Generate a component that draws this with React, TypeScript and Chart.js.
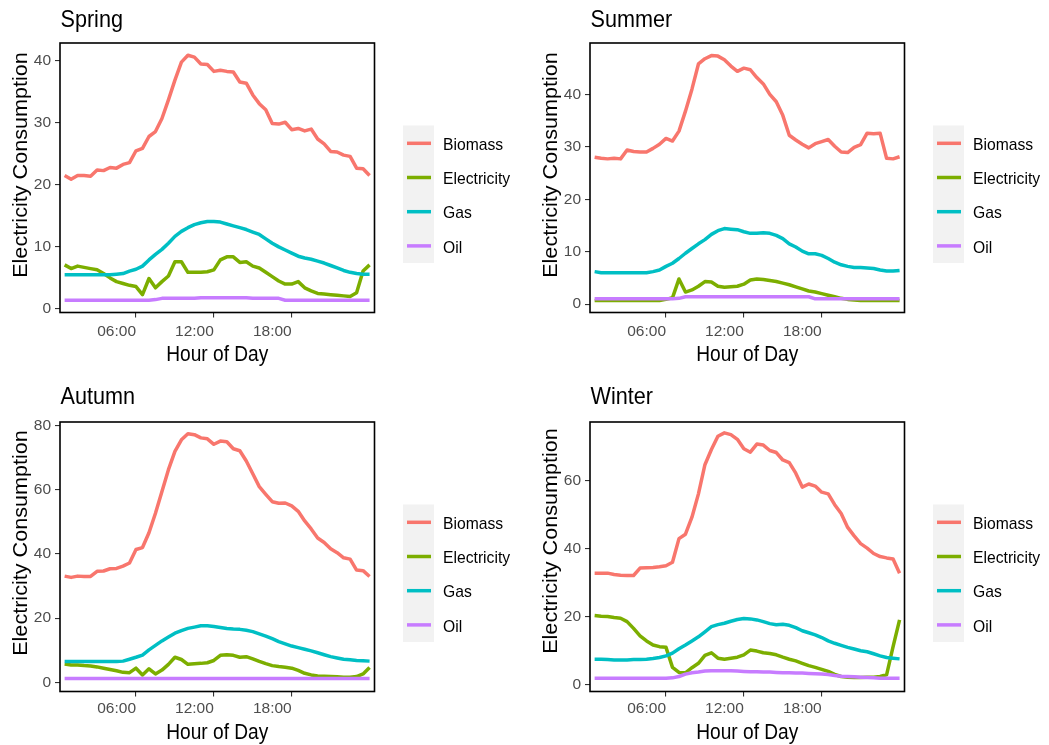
import React, { useEffect, useRef } from "react";
import { Chart, registerables } from "chart.js";

Chart.register(...registerables);

// ---------- DATA ----------
const hours = [
  0.5, 1, 1.5, 2, 2.5, 3, 3.5, 4, 4.5, 5, 5.5, 6, 6.5, 7, 7.5, 8, 8.5, 9, 9.5, 10, 10.5, 11, 11.5, 12,
  12.5, 13, 13.5, 14, 14.5, 15, 15.5, 16, 16.5, 17, 17.5, 18, 18.5, 19, 19.5, 20, 20.5, 21, 21.5, 22,
  22.5, 23, 23.5, 24,
];

const seriesNames = ["Biomass", "Electricity", "Gas", "Oil"];
const seriesColors = ["#F8766D", "#7CAE00", "#00BFC4", "#C77CFF"];

const xTickValues = [6, 12, 18];
const xTickLabels = ["06:00", "12:00", "18:00"];

const springYTicks = [0, 10, 20, 30, 40];
const summerYTicks = [0, 10, 20, 30, 40];
const autumnYTicks = [0, 20, 40, 60, 80];
const winterYTicks = [0, 20, 40, 60];

const springBiomass = [21.4, 20.8, 21.4, 21.4, 21.3, 22.3, 22.2, 22.7, 22.6, 23.2, 23.5, 25.4, 25.8, 27.7, 28.5, 30.6, 33.6, 36.8, 39.7, 40.8, 40.5, 39.4, 39.3, 38.2, 38.4, 38.2, 38.1, 36.5, 36.3, 34.4, 33.0, 32.0, 29.8, 29.7, 30.0, 28.8, 29.0, 28.6, 28.9, 27.3, 26.5, 25.3, 25.2, 24.7, 24.5, 22.6, 22.5, 21.4];
const springElectricity = [7.0, 6.4, 6.8, 6.6, 6.4, 6.2, 5.6, 4.9, 4.3, 4.0, 3.7, 3.5, 2.2, 4.8, 3.3, 4.3, 5.2, 7.5, 7.5, 5.8, 5.8, 5.8, 5.9, 6.2, 7.8, 8.3, 8.3, 7.4, 7.5, 6.8, 6.5, 5.8, 5.1, 4.4, 3.9, 3.9, 4.3, 3.3, 2.8, 2.4, 2.3, 2.2, 2.1, 2.0, 1.9, 2.5, 6.0, 7.0];
const springGas = [5.4, 5.4, 5.4, 5.4, 5.4, 5.4, 5.4, 5.4, 5.5, 5.6, 6.0, 6.3, 6.8, 7.8, 8.7, 9.5, 10.5, 11.6, 12.4, 13.0, 13.5, 13.8, 14.0, 14.0, 13.9, 13.6, 13.3, 13.0, 12.7, 12.3, 11.9, 11.2, 10.5, 9.9, 9.4, 8.9, 8.4, 8.1, 7.9, 7.6, 7.3, 6.9, 6.5, 6.1, 5.8, 5.6, 5.5, 5.5];
const springOil = [1.3, 1.3, 1.3, 1.3, 1.3, 1.3, 1.3, 1.3, 1.3, 1.3, 1.3, 1.3, 1.3, 1.3, 1.4, 1.6, 1.6, 1.6, 1.6, 1.6, 1.6, 1.7, 1.7, 1.7, 1.7, 1.7, 1.7, 1.7, 1.7, 1.6, 1.6, 1.6, 1.6, 1.6, 1.3, 1.3, 1.3, 1.3, 1.3, 1.3, 1.3, 1.3, 1.3, 1.3, 1.3, 1.3, 1.3, 1.3];

const summerBiomass = [28.0, 27.8, 27.7, 27.8, 27.7, 29.4, 29.1, 29.0, 29.0, 29.7, 30.5, 31.6, 31.1, 33.0, 36.8, 41.0, 45.8, 46.8, 47.4, 47.3, 46.6, 45.4, 44.4, 45.0, 44.7, 43.2, 42.0, 40.0, 38.6, 36.0, 32.2, 31.3, 30.5, 29.8, 30.6, 31.0, 31.4, 30.1, 29.0, 28.9, 29.9, 30.4, 32.6, 32.5, 32.6, 27.8, 27.7, 28.1];
const summerElectricity = [0.7, 0.7, 0.7, 0.7, 0.7, 0.7, 0.7, 0.7, 0.7, 0.7, 0.7, 0.9, 1.2, 4.8, 2.3, 2.7, 3.4, 4.3, 4.2, 3.4, 3.2, 3.3, 3.4, 3.8, 4.6, 4.8, 4.7, 4.5, 4.3, 4.0, 3.7, 3.3, 2.9, 2.5, 2.3, 2.0, 1.7, 1.4, 1.1, 0.9, 0.8, 0.7, 0.7, 0.7, 0.7, 0.7, 0.7, 0.7];
const summerGas = [6.2, 6.0, 6.0, 6.0, 6.0, 6.0, 6.0, 6.0, 6.0, 6.2, 6.5, 7.2, 7.8, 8.7, 9.7, 10.6, 11.5, 12.3, 13.3, 14.0, 14.4, 14.3, 14.2, 13.8, 13.5, 13.5, 13.6, 13.5, 13.1, 12.5, 11.5, 10.9, 10.1, 9.6, 9.6, 9.3, 8.7, 8.0, 7.5, 7.2, 7.0, 7.0, 6.9, 6.8, 6.5, 6.3, 6.3, 6.4];
const summerOil = [1.0, 1.0, 1.0, 1.0, 1.0, 1.0, 1.0, 1.0, 1.0, 1.0, 1.0, 1.0, 1.0, 1.1, 1.4, 1.4, 1.4, 1.4, 1.4, 1.4, 1.4, 1.4, 1.4, 1.4, 1.4, 1.4, 1.4, 1.4, 1.4, 1.4, 1.4, 1.4, 1.4, 1.4, 1.0, 1.0, 1.0, 1.0, 1.0, 1.0, 1.0, 1.0, 1.0, 1.0, 1.0, 1.0, 1.0, 1.0];

const autumnBiomass = [33.1, 32.7, 33.1, 33.0, 33.0, 34.6, 34.7, 35.4, 35.5, 36.2, 37.2, 41.4, 42.0, 46.6, 52.7, 59.5, 66.3, 72.0, 75.6, 77.5, 77.2, 76.2, 75.9, 74.2, 75.2, 75.0, 72.8, 72.2, 69.0, 65.0, 61.0, 58.6, 56.3, 55.8, 55.9, 55.0, 53.3, 50.3, 47.8, 45.0, 43.6, 41.6, 40.4, 38.8, 38.4, 35.0, 34.8, 33.0];
const autumnElectricity = [5.7, 5.4, 5.4, 5.2, 5.1, 4.8, 4.4, 4.0, 3.6, 3.1, 3.0, 4.4, 2.3, 4.2, 2.6, 3.8, 5.6, 7.8, 7.1, 5.6, 5.8, 5.9, 6.1, 6.8, 8.4, 8.6, 8.4, 7.8, 8.0, 7.3, 6.5, 5.8, 5.2, 4.9, 4.7, 4.4, 3.7, 2.8, 2.3, 2.0, 1.9, 1.8, 1.7, 1.6, 1.6, 1.8, 2.6, 4.6];
const autumnGas = [6.5, 6.5, 6.5, 6.5, 6.5, 6.5, 6.5, 6.5, 6.5, 6.6, 7.2, 7.8, 8.5, 10.1, 11.5, 12.9, 14.1, 15.3, 16.1, 16.8, 17.2, 17.6, 17.6, 17.4, 17.1, 16.8, 16.6, 16.5, 16.2, 15.8, 15.1, 14.4, 13.6, 12.7, 12.0, 11.3, 10.8, 10.3, 9.8, 9.2, 8.6, 8.0, 7.6, 7.2, 7.0, 6.8, 6.7, 6.6];
const autumnOil = [1.2, 1.2, 1.2, 1.2, 1.2, 1.2, 1.2, 1.2, 1.2, 1.2, 1.2, 1.2, 1.2, 1.2, 1.2, 1.2, 1.2, 1.2, 1.2, 1.2, 1.2, 1.2, 1.2, 1.2, 1.2, 1.2, 1.2, 1.2, 1.2, 1.2, 1.2, 1.2, 1.2, 1.2, 1.2, 1.2, 1.2, 1.2, 1.2, 1.2, 1.2, 1.2, 1.2, 1.2, 1.2, 1.2, 1.2, 1.2];

const winterBiomass = [32.8, 32.8, 32.8, 32.4, 32.2, 32.1, 32.1, 34.3, 34.4, 34.5, 34.7, 35.0, 36.0, 43.0, 44.3, 49.3, 56.2, 64.8, 69.3, 73.2, 74.2, 73.7, 72.3, 69.5, 68.5, 70.9, 70.6, 69.0, 68.4, 66.2, 65.4, 62.3, 58.2, 59.1, 58.5, 56.7, 56.2, 53.0, 50.4, 46.3, 43.8, 41.5, 40.2, 38.6, 37.7, 37.3, 37.0, 32.8];
const winterElectricity = [20.3, 20.1, 20.0, 19.7, 19.5, 18.5, 16.5, 14.3, 12.8, 11.6, 11.1, 10.9, 5.0, 3.5, 3.4, 4.9, 6.2, 8.5, 9.3, 7.7, 7.4, 7.7, 8.0, 8.7, 10.1, 9.8, 9.3, 9.1, 8.7, 8.0, 7.4, 6.9, 6.2, 5.5, 5.0, 4.4, 3.8, 2.9, 2.3, 2.1, 2.0, 2.0, 2.1, 2.1, 2.3, 2.8, 11.1, 19.0];
const winterGas = [7.4, 7.4, 7.3, 7.2, 7.2, 7.2, 7.3, 7.3, 7.4, 7.6, 7.9, 8.4, 9.2, 10.5, 11.6, 12.8, 14.0, 15.5, 17.0, 17.6, 18.0, 18.6, 19.1, 19.4, 19.3, 19.0, 18.5, 17.9, 17.6, 17.7, 17.4, 16.7, 15.8, 15.2, 14.6, 13.8, 12.8, 12.1, 11.5, 10.9, 10.4, 9.9, 9.6, 9.0, 8.4, 7.9, 7.7, 7.5];
const winterOil = [1.8, 1.8, 1.8, 1.8, 1.8, 1.8, 1.8, 1.8, 1.8, 1.8, 1.8, 1.8, 1.9, 2.3, 3.0, 3.4, 3.6, 3.9, 4.0, 4.0, 4.0, 4.0, 3.9, 3.8, 3.7, 3.7, 3.6, 3.6, 3.5, 3.4, 3.4, 3.3, 3.3, 3.2, 3.1, 3.0, 2.9, 2.6, 2.4, 2.3, 2.2, 2.1, 2.0, 1.9, 1.8, 1.8, 1.8, 1.8];

const xTitle = "Hour of Day";
const yTitle = "Electricity Consumption";

// ---------- LAYOUT ----------
const FONT = '"Liberation Sans", Arial, Helvetica, sans-serif';
const CANVAS_W = 519;
const CANVAS_H = 366;

type PanelSpec = {
  title: string;
  series: number[][];
  yMin: number;
  yMax: number;
  yTicks: number[];
  left: number;
  top: number;
  titleY: number;
  xTitleY: number;
  yTitleCenter: number;
  xTickPad: number;
};

const panels: PanelSpec[] = [
  { title: "Spring", series: [springBiomass, springElectricity, springGas, springOil], yMin: -0.68, yMax: 42.78, yTicks: springYTicks, left: 0, top: 0, titleY: 26.7, xTitleY: 361, yTitleCenter: 165, xTickPad: 5 },
  { title: "Summer", series: [summerBiomass, summerElectricity, summerGas, summerOil], yMin: -1.6, yMax: 49.8, yTicks: summerYTicks, left: 530, top: 0, titleY: 26.7, xTitleY: 361, yTitleCenter: 165, xTickPad: 5 },
  { title: "Autumn", series: [autumnBiomass, autumnElectricity, autumnGas, autumnOil], yMin: -2.87, yMax: 81.15, yTicks: autumnYTicks, left: 0, top: 379, titleY: 25.3, xTitleY: 359.5, yTitleCenter: 164, xTickPad: 3 },
  { title: "Winter", series: [winterBiomass, winterElectricity, winterGas, winterOil], yMin: -2.13, yMax: 77.41, yTicks: winterYTicks, left: 530, top: 379, titleY: 25.3, xTitleY: 359.5, yTitleCenter: 162, xTickPad: 3 },
];

function drawText(
  ctx: CanvasRenderingContext2D,
  s: string,
  x: number,
  y: number,
  size: number,
  sx: number,
  align: CanvasTextAlign,
  rotate = 0,
  color = "#000000"
) {
  ctx.save();
  ctx.translate(x, y);
  if (rotate) ctx.rotate(rotate);
  ctx.scale(sx, 1);
  ctx.font = `${size}px ${FONT}`;
  ctx.fillStyle = color;
  ctx.textAlign = align;
  ctx.textBaseline = "alphabetic";
  ctx.fillText(s, 0, 0);
  ctx.restore();
}

function makeDecor(p: PanelSpec) {
  return {
    id: "decor",
    afterDatasetsDraw(chart: any) {
      const { ctx, chartArea: a } = chart;
      ctx.save();
      ctx.strokeStyle = "#000000";
      ctx.lineWidth = 1.6;
      ctx.strokeRect(a.left, a.top, a.right - a.left, a.bottom - a.top);
      ctx.restore();
    },
    afterDraw(chart: any) {
      const { ctx, chartArea: a } = chart;
      drawText(ctx, p.title, a.left + 0.5, p.titleY, 24, 0.9, "left");
      drawText(ctx, xTitle, (a.left + a.right) / 2, p.xTitleY, 22, 0.87, "center");
      drawText(ctx, yTitle, 26.5, p.yTitleCenter, 20, 1.08, "center", -Math.PI / 2);
      // legend
      const ds = chart.data.datasets;
      ctx.save();
      ctx.fillStyle = "#F2F2F2";
      ctx.fillRect(403, 125.5, 31, 137.5);
      ds.forEach((d: any, i: number) => {
        const y = 143.3 + i * 34.2;
        ctx.strokeStyle = d.borderColor;
        ctx.lineWidth = 3.5;
        ctx.lineCap = "butt";
        ctx.beginPath();
        ctx.moveTo(407, y);
        ctx.lineTo(431, y);
        ctx.stroke();
        drawText(ctx, d.label, 443, y + 6.6, 15.7, 1, "left");
      });
      ctx.restore();
    },
  };
}

function Panel({ spec }: { spec: PanelSpec }) {
  const ref = useRef<HTMLCanvasElement>(null);
  useEffect(() => {
    if (!ref.current) return;
    const tickFont = { family: FONT, size: 15.5 };
    const chart = new Chart(ref.current, {
      type: "line",
      data: {
        datasets: seriesNames.map((name, i) => ({
          label: name,
          data: hours.map((h, j) => ({ x: h, y: spec.series[i][j] })),
          borderColor: seriesColors[i],
          backgroundColor: seriesColors[i],
          borderWidth: 3.5,
          pointRadius: 0,
          pointHoverRadius: 0,
          tension: 0,
          fill: false,
          order: 3 - i,
          borderJoinStyle: "round" as const,
          borderCapStyle: "butt" as const,
        })),
      },
      options: {
        responsive: false,
        maintainAspectRatio: false,
        animation: false,
        events: [],
        layout: { padding: { left: 0, top: 43, right: CANVAS_W - 374.5, bottom: 0 } },
        plugins: {
          legend: { display: false },
          tooltip: { enabled: false },
          title: { display: false },
        },
        scales: {
          x: {
            type: "linear",
            min: 0.143,
            max: 24.38,
            bounds: "data",
            afterFit: (s: any) => {
              s.height = CANVAS_H - 312.5;
            },
            afterBuildTicks: (s: any) => {
              s.ticks = xTickValues.map((v) => ({ value: v }));
            },
            ticks: {
              autoSkip: false,
              maxRotation: 0,
              minRotation: 0,
              align: "end",
              padding: spec.xTickPad,
              color: "#4D4D4D",
              font: tickFont,
              callback: (_v: any, idx: number) => xTickLabels[idx],
            },
            grid: {
              display: true,
              drawOnChartArea: false,
              drawTicks: true,
              tickLength: 5,
              color: "#333333",
              lineWidth: 1.1,
            },
            border: { display: false },
          },
          y: {
            type: "linear",
            min: spec.yMin,
            max: spec.yMax,
            bounds: "data",
            afterFit: (s: any) => {
              s.width = 60;
            },
            afterBuildTicks: (s: any) => {
              s.ticks = spec.yTicks.map((v) => ({ value: v }));
            },
            ticks: {
              autoSkip: false,
              padding: 4,
              color: "#4D4D4D",
              font: tickFont,
              callback: (v: any) => String(v),
            },
            grid: {
              display: true,
              drawOnChartArea: false,
              drawTicks: true,
              tickLength: 5,
              color: "#333333",
              lineWidth: 1.1,
            },
            border: { display: false },
          },
        },
      } as any,
      plugins: [makeDecor(spec)],
    });
    return () => chart.destroy();
  }, [spec]);
  return (
    <canvas
      ref={ref}
      width={CANVAS_W}
      height={CANVAS_H}
      style={{ position: "absolute", left: spec.left, top: spec.top, width: CANVAS_W, height: CANVAS_H }}
    />
  );
}

export default function App() {
  return (
    <div
      style={{
        position: "absolute",
        left: 0,
        top: 0,
        width: 1049,
        height: 745,
        background: "#FFFFFF",
        overflow: "hidden",
      }}
    >
      {panels.map((p) => (
        <Panel key={p.title} spec={p} />
      ))}
    </div>
  );
}
